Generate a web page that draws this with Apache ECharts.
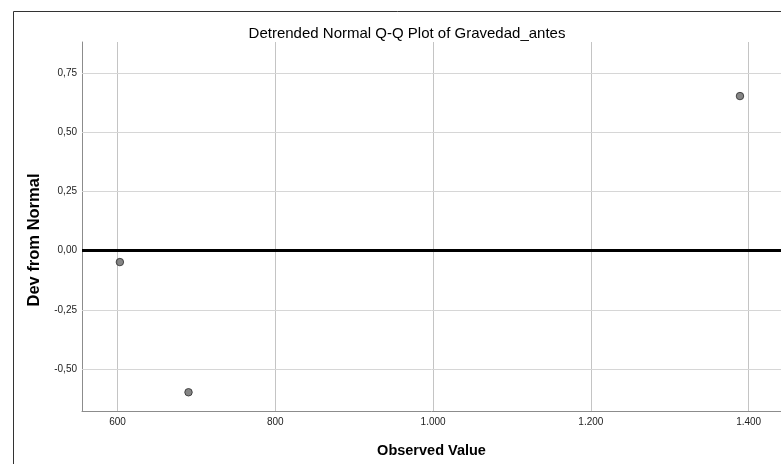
<!DOCTYPE html>
<html>
<head>
<meta charset="utf-8">
<script src="https://cdn.jsdelivr.net/npm/echarts@6/dist/echarts.min.js"></script>
<style>html,body{margin:0;padding:0;background:#fff}#c{width:781px;height:464px}</style>
</head>
<body>
<div id="c"></div>
<script>
const observedValues = [603, 690, 1389];
const devFromNormal = [-0.048, -0.597, 0.652];
const xTicks = [600, 800, 1000, 1200, 1400];
const yTicks = [-0.5, -0.25, 0, 0.25, 0.5, 0.75];

const points = observedValues.map((v, i) => [v, devFromNormal[i]]);
const font = '"Liberation Sans", Arial, sans-serif';

const gridLines = yTicks.filter(v => v !== 0).map(v => ({
  yAxis: v, lineStyle: {color: '#d6d6d6', width: 1, type: 'solid'}
}));
const zeroLine = {yAxis: 0, lineStyle: {color: '#000', width: 3, type: 'solid'}};

const chart = echarts.init(document.getElementById('c'), null, {renderer: 'canvas'});
chart.setOption({
  animation: false,
  backgroundColor: '#fff',
  title: {
    text: 'Detrended Normal Q-Q Plot of Gravedad_antes',
    left: 402, top: 21, textAlign: 'center',
    textStyle: {fontFamily: font, fontSize: 15, fontWeight: 'normal', color: '#000'}
  },
  graphic: [{
    type: 'rect', left: 11, top: 9, z: -1,
    shape: {width: 800, height: 500},
    style: {fill: 'none', stroke: '#333', lineWidth: 1}
  }, {
    type: 'text', x: 34, y: 240, rotation: Math.PI / 2,
    style: {
      text: 'Dev from Normal', fontFamily: font, fontSize: 16.5, fontWeight: 'bold',
      fill: '#000', align: 'center', verticalAlign: 'middle'
    }
  }],
  grid: {left: 82, right: -2, top: 42, bottom: 53, containLabel: false},
  xAxis: {
    type: 'value', min: 555, max: 1441,
    name: 'Observed Value', nameLocation: 'middle', nameGap: 32,
    nameTextStyle: {fontFamily: font, fontSize: 14.5, fontWeight: 'bold', color: '#000'},
    axisLine: {show: true, onZero: false, lineStyle: {color: '#8c8c8c', width: 1}},
    axisTick: {show: false},
    splitLine: {show: true, lineStyle: {color: '#c4c4c4', width: 1}},
    axisLabel: {
      fontFamily: font, fontSize: 10, color: '#222', margin: 6,
      customValues: xTicks,
      formatter: v => v.toLocaleString('de-DE')
    }
  },
  yAxis: {
    type: 'value', min: -0.676, max: 0.880,
    axisLine: {show: true, onZero: false, lineStyle: {color: '#8c8c8c', width: 1}},
    axisTick: {show: false},
    splitLine: {show: false},
    axisLabel: {
      fontFamily: font, fontSize: 10, color: '#222', margin: 5,
      padding: [5, 0, 0, 0],
      customValues: yTicks,
      formatter: v => v.toFixed(2).replace('.', ',')
    }
  },
  series: [{
    type: 'scatter',
    data: points,
    symbolSize: 7.5,
    itemStyle: {color: '#666666', borderColor: '#2a2a2a', borderWidth: 1},
    markLine: {
      silent: true, symbol: 'none', label: {show: false}, z: 1,
      data: gridLines.concat([zeroLine])
    },
    z: 5
  }]
});
</script>
</body>
</html>
